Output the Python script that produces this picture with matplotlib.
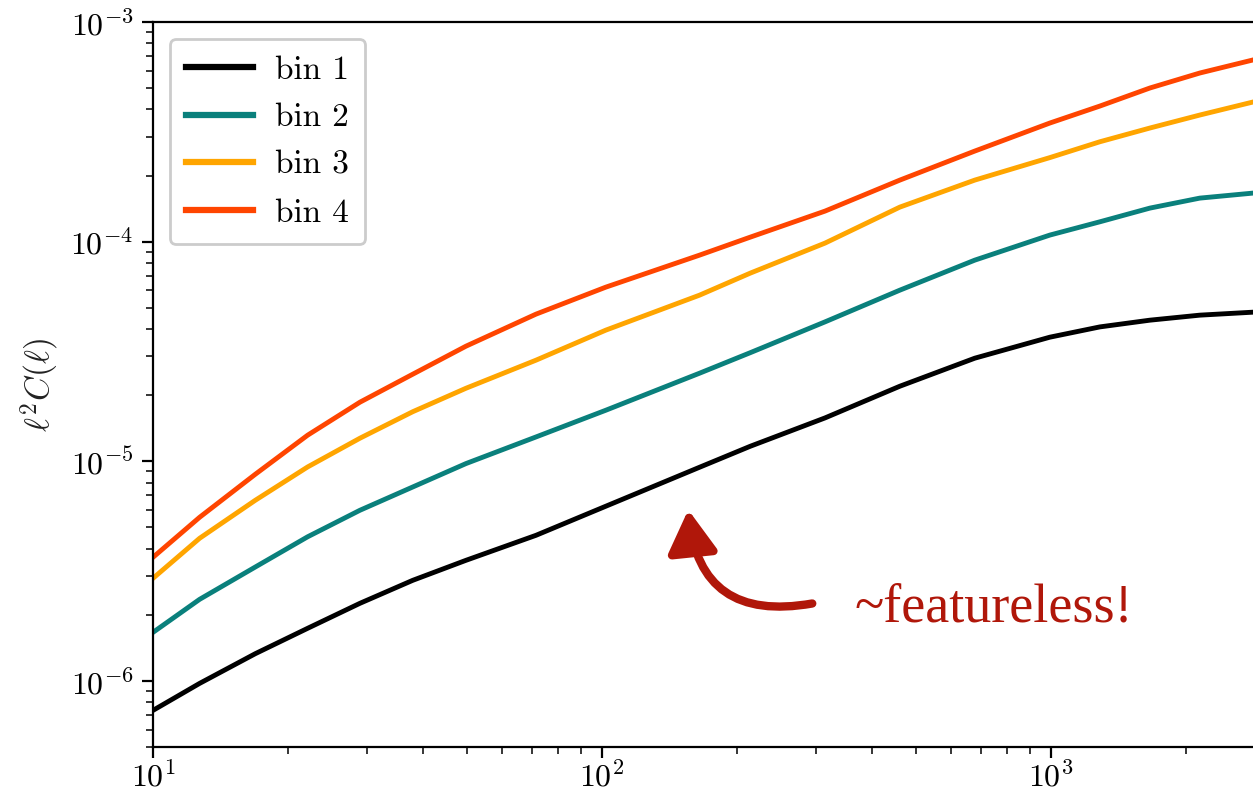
import numpy as np
import matplotlib
matplotlib.use("Agg")
import matplotlib.pyplot as plt
from matplotlib.patches import FancyArrowPatch

plt.rcParams['font.family'] = 'serif'
plt.rcParams['font.serif'] = ['cmr10']
plt.rcParams['mathtext.fontset'] = 'cm'
plt.rcParams['axes.unicode_minus'] = False
plt.rcParams['axes.formatter.use_mathtext'] = True

# multipoles and l^2 C(l) per tomographic bin
ell = np.array([10, 12.7, 16.9, 22.1, 28.9, 37.9, 49.8, 71.3, 102, 165,
                214, 314, 461, 677, 995, 1286, 1662, 2147, 2818])
bin1 = np.array([7.34e-7, 9.74e-7, 1.33e-6, 1.735e-6, 2.255e-6, 2.87e-6, 3.54e-6,
                 4.60e-6, 6.24e-6, 9.39e-6, 1.17e-5, 1.575e-5, 2.196e-5, 2.946e-5,
                 3.672e-5, 4.09e-5, 4.389e-5, 4.626e-5, 4.772e-5])
bin2 = np.array([1.663e-6, 2.351e-6, 3.30e-6, 4.529e-6, 5.981e-6, 7.636e-6, 9.761e-6,
                 1.29e-5, 1.707e-5, 2.517e-5, 3.121e-5, 4.311e-5, 6.012e-5, 8.235e-5,
                 1.071e-4, 1.231e-4, 1.421e-4, 1.578e-4, 1.663e-4])
bin3 = np.array([2.931e-6, 4.459e-6, 6.643e-6, 9.419e-6, 1.273e-5, 1.681e-5, 2.15e-5,
                 2.885e-5, 3.953e-5, 5.705e-5, 7.186e-5, 9.845e-5, 1.436e-4, 1.906e-4,
                 2.413e-4, 2.849e-4, 3.29e-4, 3.77e-4, 4.32e-4])
bin4 = np.array([3.653e-6, 5.557e-6, 8.726e-6, 1.314e-5, 1.857e-5, 2.491e-5, 3.342e-5,
                 4.675e-5, 6.204e-5, 8.679e-5, 1.048e-4, 1.377e-4, 1.906e-4, 2.584e-4,
                 3.467e-4, 4.142e-4, 5.005e-4, 5.857e-4, 6.714e-4])

labels = ['bin 1', 'bin 2', 'bin 3', 'bin 4']
colors = ['black', '#0a807c', '#ffa500', '#ff4500']

fig = plt.figure(figsize=(12.53, 7.97), dpi=100)
ax = fig.add_axes([153/1253, 50/797, 1112/1253, 725/797])

for y, lab, c in zip([bin1, bin2, bin3, bin4], labels, colors):
    ax.plot(ell, y, color=c, lw=3.5, label=lab)

ax.set_xscale('log')
ax.set_yscale('log')
ax.set_xlim(10, 3000)
ax.set_ylim(5e-7, 1e-3)
ax.set_ylabel(r'$\ell^2 C(\ell)$', fontsize=24, color='#222222', labelpad=6)

for s in ax.spines.values():
    s.set_linewidth(1.6)
ax.tick_params(which='major', length=8, width=1.6, labelsize=23)
ax.tick_params(which='minor', length=5, width=1.1)
ax.tick_params(axis='x', which='major', pad=2)
ax.tick_params(axis='y', which='major', pad=6)

leg = ax.legend(loc='upper left', fontsize=24, handlelength=2.0, handletextpad=0.65,
                labelspacing=0.55, borderaxespad=0.5, borderpad=0.5,
                fancybox=True, framealpha=1)
leg.get_frame().set_edgecolor('#cccccc')
leg.get_frame().set_linewidth(2)
for h in leg.get_lines():
    h.set_linewidth(4.5)

# annotation: curved arrow pointing at bin 1
dark_red = '#b0170a'
arrow = FancyArrowPatch((815, 797 - 603), (688, 797 - 507), transform=None,
                        connectionstyle='arc3,rad=-0.55',
                        arrowstyle='-|>,head_length=0.85,head_width=0.5',
                        mutation_scale=30, lw=6, color=dark_red, capstyle='round',
                        joinstyle='round')
fig.patches.append(arrow)
fig.text(855/1253, 1 - 622/797, '~featureless!', fontsize=39, color=dark_red,
         family='Liberation Serif', ha='left', va='baseline')

fig.savefig('out.png', dpi=100, facecolor='white')
